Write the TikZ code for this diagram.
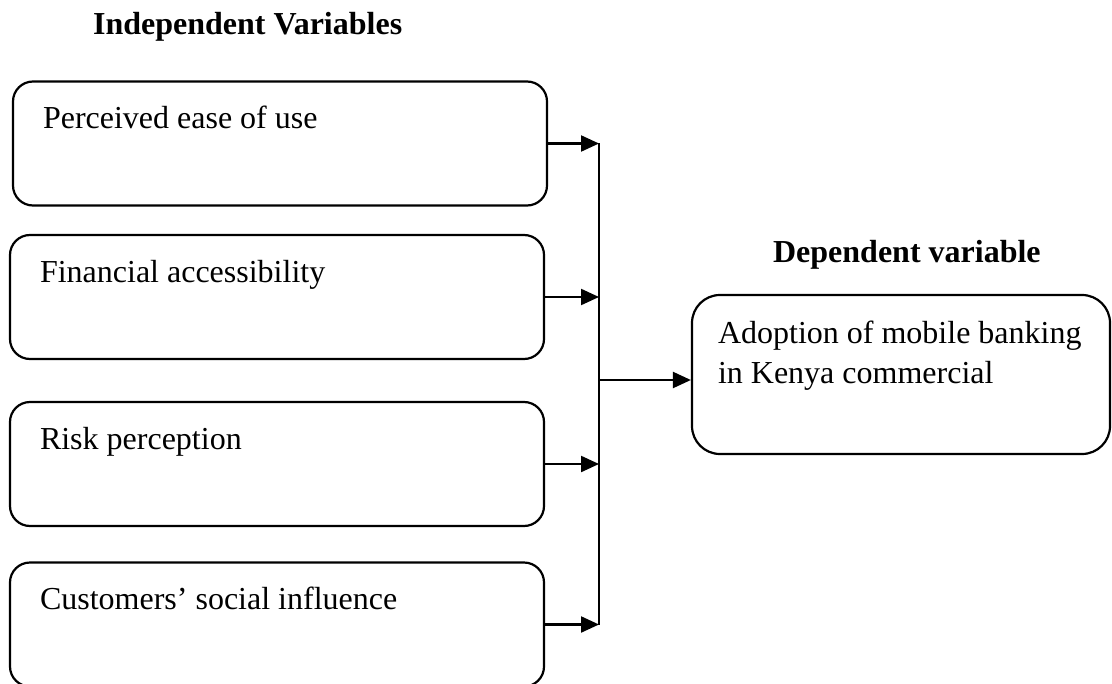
\documentclass[tikz,border=0pt]{standalone}
\usepackage{fontspec}
\setmainfont{Liberation Serif}
\usetikzlibrary{arrows.meta}

\begin{document}
\begin{tikzpicture}[x=0.5pt,y=-0.5pt,line width=1.1pt,
    every node/.style={font=\fontsize{16}{20}\selectfont},
    ivbox/.style={draw,rounded corners=10pt,inner xsep=15pt,inner ysep=0pt,text width=237pt,text height=23.5pt,text depth=38.5pt,
        execute at begin node={\spaceskip=0pt\xspaceskip=0pt\relax}},
    dvbox/.style={ivbox,rounded corners=14pt,inner xsep=13pt,text width=183pt,text height=24pt,text depth=55.5pt},
    head/.style={anchor=base west,inner sep=0pt,font=\fontsize{16}{20}\selectfont\bfseries},
    link/.style={-{Triangle[length=9pt,width=8pt]}}]
    \useasboundingbox (0,0) rectangle (1112,684);
    %
    \node[head] (indep) at (92,35) {Independent Variables};
    \node[head] (dep) at (772,263) {Dependent variable};
    %
    \node[ivbox] (ease) at (280,143.5) {Perceived ease of use};
    \node[ivbox] (finance) at (277,297) {Financial accessibility};
    \node[ivbox] (risk) at (277,464) {Risk perception};
    \node[ivbox] (social) at (277,624.5) {Customers' social influence};
    %
    \node[dvbox] (adopt) at (901,374.5) {Adoption of mobile banking\\in Kenya commercial};
    %
    \coordinate (bus) at (599,380);
    \draw[link] (ease.east) -- (ease.east -| bus);
    \draw[link] (finance.east) -- (finance.east -| bus);
    \draw[link] (risk.east) -- (risk.east -| bus);
    \draw[link] (social.east) -- (social.east -| bus);
    \draw (ease.east -| bus) -- (social.east -| bus);
    \draw[link] (bus) -- (bus -| adopt.west);
    %
\end{tikzpicture}
\end{document}
